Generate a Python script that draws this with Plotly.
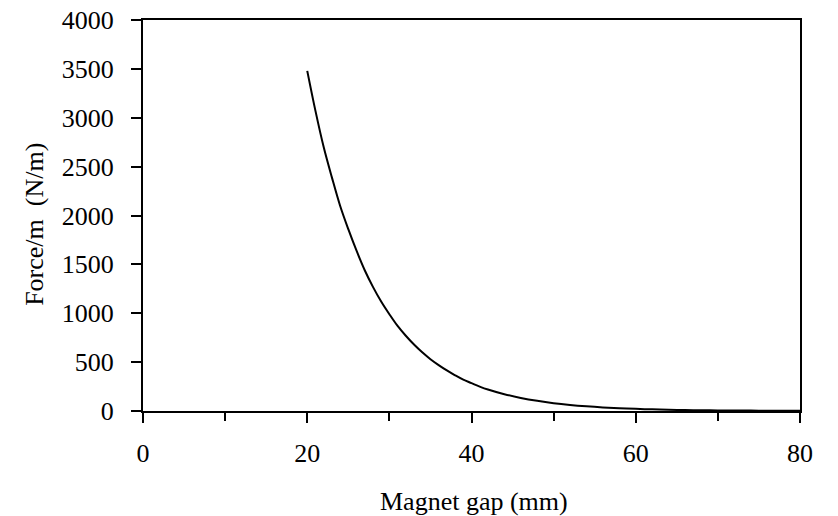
import plotly.graph_objects as go

gap_mm = [20, 21, 22, 23, 24, 25, 26, 27, 28, 29, 30, 31, 32, 33, 34, 35, 36, 37, 38, 39, 40,
          41, 42, 44, 46, 48, 50, 52, 54, 56, 58, 60, 62, 64, 66, 68, 70, 72, 74, 76, 78, 80]
force_per_m = [3480, 3070, 2700, 2390, 2100, 1860, 1640, 1440, 1270, 1120, 990, 870, 770, 680,
               600, 530, 470, 415, 365, 320, 285, 250, 220, 172, 134, 104, 80, 62, 48, 37, 29,
               22, 17, 13, 10, 8, 6, 5, 4, 3, 2, 2]

x_ticks = [0, 20, 40, 60, 80]
y_ticks = [0, 500, 1000, 1500, 2000, 2500, 3000, 3500, 4000]
x_title = "Magnet gap (mm)"
y_title = "Force/m\u00a0 (N/m)"

font_family = "Liberation Serif, Times New Roman, serif"

fig = go.Figure()
fig.add_trace(go.Scatter(
    x=gap_mm, y=force_per_m, mode="lines",
    line=dict(color="black", width=2, shape="spline"),
    showlegend=False, hoverinfo="skip",
))

fig.update_layout(
    width=838, height=516,
    margin=dict(l=143, r=38, t=20, b=105),
    paper_bgcolor="white", plot_bgcolor="white",
    font=dict(family=font_family, size=26, color="black"),
    xaxis=dict(
        range=[0, 80], tickvals=x_ticks, ticktext=[str(v) for v in x_ticks],
        showgrid=False, zeroline=False,
        showline=True, linecolor="black", linewidth=2, mirror=True,
        ticks="outside", ticklen=10, tickwidth=2, tickcolor="black",
        ticklabelstandoff=8,
        minor=dict(tickvals=[10, 30, 50, 70], ticks="outside", ticklen=8,
                   tickwidth=2, tickcolor="black", showgrid=False),
        automargin=False,
    ),
    yaxis=dict(
        range=[0, 4000], tickvals=y_ticks, ticktext=[str(v) for v in y_ticks],
        showgrid=False, zeroline=False,
        showline=True, linecolor="black", linewidth=2, mirror=True,
        ticks="outside", ticklen=10, tickwidth=2, tickcolor="black",
        ticklabelstandoff=12,
        automargin=False,
    ),
    annotations=[
        dict(text=x_title, xref="paper", yref="paper", x=0.5038, y=-0.19,
             xanchor="center", yanchor="top", showarrow=False,
             font=dict(family=font_family, size=26, color="black")),
        dict(text=y_title, xref="paper", yref="paper", x=-0.165, y=0.4776,
             xanchor="center", yanchor="middle", textangle=-90, showarrow=False,
             font=dict(family=font_family, size=26, color="black")),
    ],
)

fig.write_html("out.html")
